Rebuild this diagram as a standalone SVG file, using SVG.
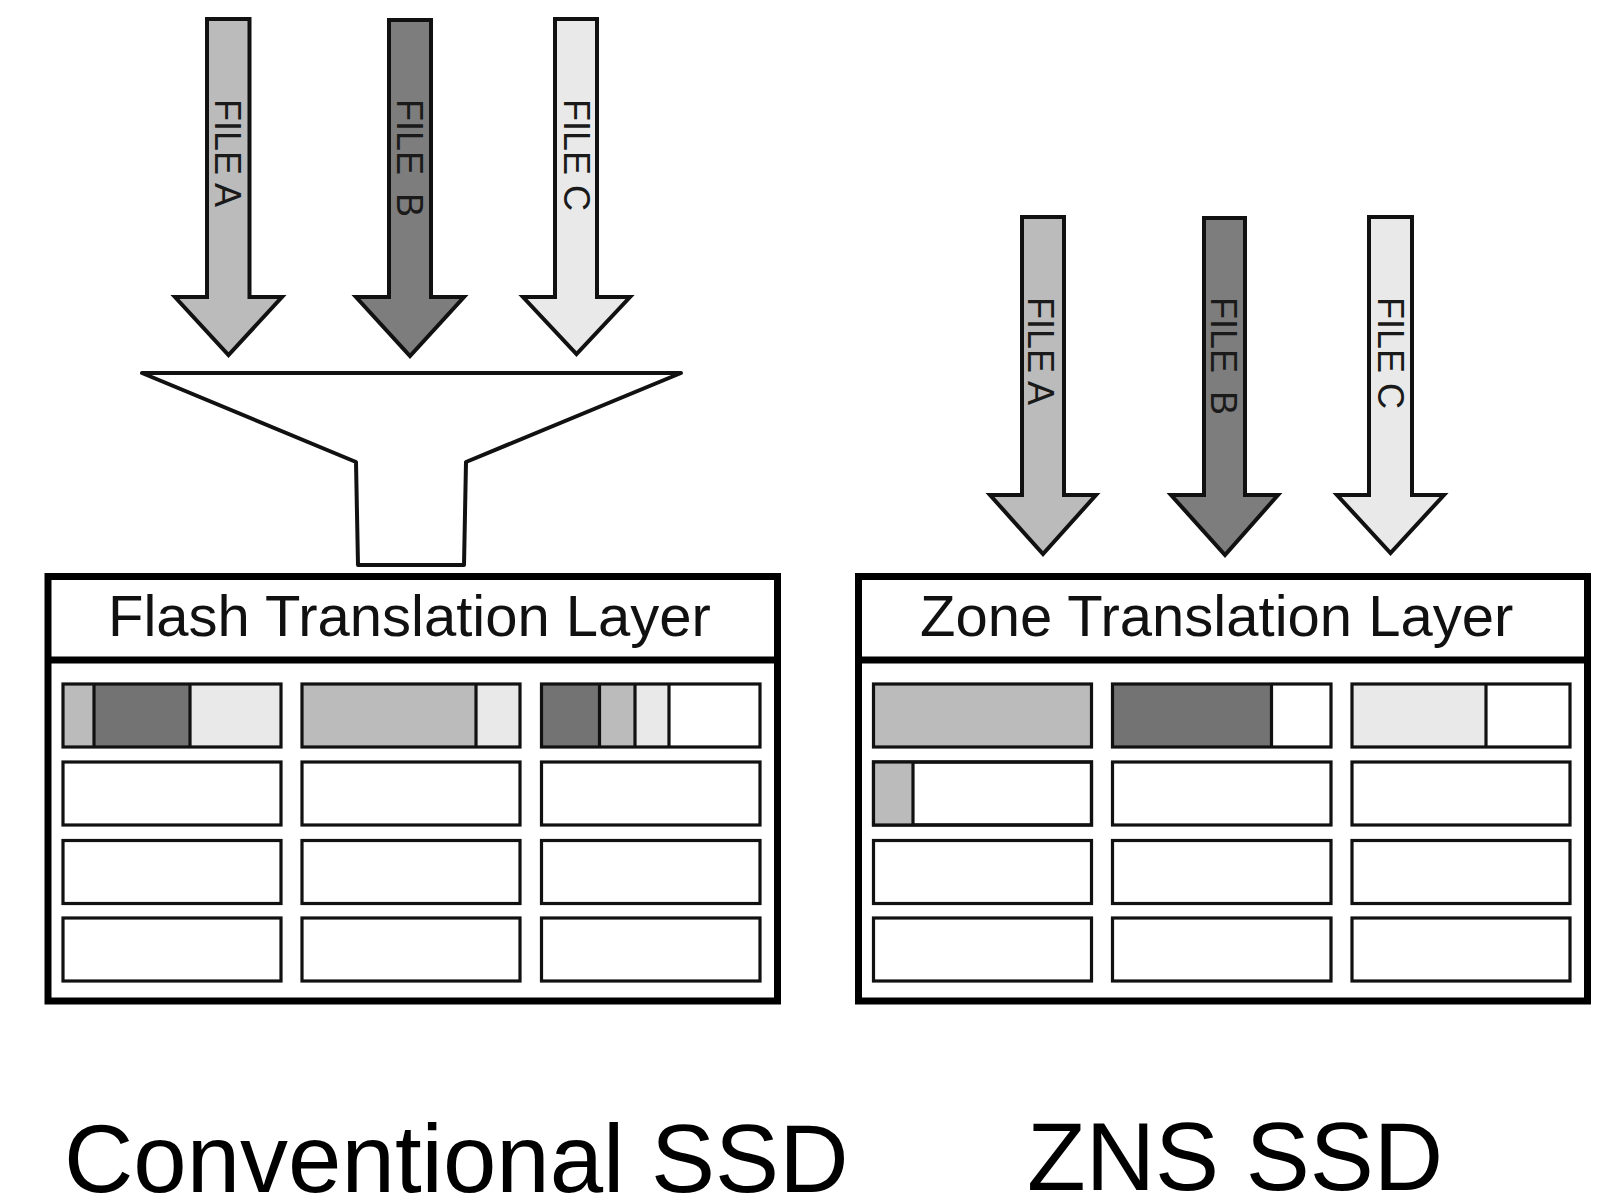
<svg xmlns="http://www.w3.org/2000/svg" width="1604" height="1197" viewBox="0 0 1604 1197">
<style>
.arr{stroke:#111;stroke-width:4;stroke-linejoin:miter}
.fa{fill:#bbbbbb}.fb{fill:#7d7d7d}.fc{fill:#e9e9e9}
.ca{fill:#bbbbbb}.cb{fill:#737373}.cc{fill:#e9e9e9}
.lbl{font-family:"Liberation Sans",Arial,sans-serif;font-size:36px;fill:#1a1a1a}
.box{fill:#fff;stroke:#000;stroke-width:7}
.hdr{stroke:#000;stroke-width:7}
.cell{fill:#fff;stroke:#111;stroke-width:3.2}
.open{fill:none;stroke:#111;stroke-width:3.2}
.div{stroke:#111;stroke-width:3.2}
.ttl{font-family:"Liberation Sans",Arial,sans-serif;font-size:58px;fill:#111}
.big{font-family:"Liberation Sans",Arial,sans-serif;font-size:96px;fill:#000}
.fun{fill:#fff;stroke:#111;stroke-width:4;stroke-linejoin:round}
</style>
<rect width="1604" height="1197" fill="#fff"/>

<g id="connectors">
  <g id="left-arrow-a">
    <polygon class="arr fa" points="207,19 249.5,19 249.5,297 282,297 228.5,355 175,297 207,297"/>
    <text class="lbl" transform="translate(215,99) rotate(90)">FILE A</text>
  </g>
  <g id="left-arrow-b">
    <polygon class="arr fb" points="389,20 431,20 431,297 464,297 410,356 356,297 389,297"/>
    <text class="lbl" transform="translate(397,99) rotate(90)">FILE <tspan dx="8">B</tspan></text>
  </g>
  <g id="left-arrow-c">
    <polygon class="arr fc" points="555,19 597,19 597,297 630,297 576.5,354 523,297 555,297"/>
    <text class="lbl" transform="translate(564,99) rotate(90)">FILE C</text>
  </g>
  <g id="right-arrow-a">
    <polygon class="arr fa" points="1022,217 1064,217 1064,495 1096,495 1043,554 990,495 1022,495"/>
    <text class="lbl" transform="translate(1028,297) rotate(90)">FILE A</text>
  </g>
  <g id="right-arrow-b">
    <polygon class="arr fb" points="1204,218 1245,218 1245,495 1278,495 1225,555 1171,495 1204,495"/>
    <text class="lbl" transform="translate(1211,297) rotate(90)">FILE <tspan dx="8">B</tspan></text>
  </g>
  <g id="right-arrow-c">
    <polygon class="arr fc" points="1369,217 1412,217 1412,495 1444,495 1390.5,553 1337,495 1369,495"/>
    <text class="lbl" transform="translate(1378,297) rotate(90)">FILE C</text>
  </g>
</g>

<g id="funnel">
  <polygon class="fun" points="142,373 681,373 466,462 464,565 358,565 356,462"/>
</g>

<g id="conventional-ssd">
  <rect class="box" x="48" y="576.5" width="729.5" height="424.5"/>
  <line class="hdr" x1="48" y1="660" x2="777.5" y2="660"/>
  <text class="ttl" x="108" y="636">Flash Translation Layer</text>
  <g id="ftl-blocks">
    <rect class="ca" x="63" y="684" width="31" height="63"/>
    <rect class="cb" x="94" y="684" width="96" height="63"/>
    <rect class="cc" x="190" y="684" width="91" height="63"/>
    <rect class="open" x="63" y="684" width="218" height="63"/>
    <line class="div" x1="94" y1="684" x2="94" y2="747"/>
    <line class="div" x1="190" y1="684" x2="190" y2="747"/>

    <rect class="ca" x="302" y="684" width="174" height="63"/>
    <rect class="cc" x="476" y="684" width="44" height="63"/>
    <rect class="open" x="302" y="684" width="218" height="63"/>
    <line class="div" x1="476" y1="684" x2="476" y2="747"/>

    <rect class="cb" x="541.5" y="684" width="58" height="63"/>
    <rect class="ca" x="599.5" y="684" width="35.5" height="63"/>
    <rect class="cc" x="635" y="684" width="34" height="63"/>
    <rect class="open" x="541.5" y="684" width="218.5" height="63"/>
    <line class="div" x1="599.5" y1="684" x2="599.5" y2="747"/>
    <line class="div" x1="635" y1="684" x2="635" y2="747"/>
    <line class="div" x1="669" y1="684" x2="669" y2="747"/>

    <rect class="cell" x="63" y="762" width="218" height="63"/>
    <rect class="cell" x="302" y="762" width="218" height="63"/>
    <rect class="cell" x="541.5" y="762" width="218.5" height="63"/>
    <rect class="cell" x="63" y="840.5" width="218" height="63"/>
    <rect class="cell" x="302" y="840.5" width="218" height="63"/>
    <rect class="cell" x="541.5" y="840.5" width="218.5" height="63"/>
    <rect class="cell" x="63" y="918" width="218" height="63"/>
    <rect class="cell" x="302" y="918" width="218" height="63"/>
    <rect class="cell" x="541.5" y="918" width="218.5" height="63"/>
  </g>
  <text class="big" x="64" y="1192">Conventional SSD</text>
</g>

<g id="zns-ssd">
  <rect class="box" x="858.5" y="576.5" width="729" height="424.5"/>
  <line class="hdr" x1="858.5" y1="660" x2="1587.5" y2="660"/>
  <text class="ttl" x="920" y="636">Zone Translation Layer</text>
  <g id="ztl-zones">
    <rect class="ca" x="873.5" y="684" width="218" height="63"/>
    <rect class="open" x="873.5" y="684" width="218" height="63"/>

    <rect class="cb" x="1112.5" y="684" width="159" height="63"/>
    <rect class="open" x="1112.5" y="684" width="218.5" height="63"/>
    <line class="div" x1="1271.5" y1="684" x2="1271.5" y2="747"/>

    <rect class="cc" x="1352" y="684" width="134" height="63"/>
    <rect class="open" x="1352" y="684" width="218" height="63"/>
    <line class="div" x1="1486" y1="684" x2="1486" y2="747"/>

    <rect class="cell" x="873.5" y="762" width="218" height="63"/>
    <rect class="ca" x="873.5" y="762" width="39.5" height="63"/>
    <rect class="open" x="873.5" y="762" width="218" height="63"/>
    <line class="div" x1="913" y1="762" x2="913" y2="825"/>
    <rect class="cell" x="1112.5" y="762" width="218.5" height="63"/>
    <rect class="cell" x="1352" y="762" width="218" height="63"/>

    <rect class="cell" x="873.5" y="840.5" width="218" height="63"/>
    <rect class="cell" x="1112.5" y="840.5" width="218.5" height="63"/>
    <rect class="cell" x="1352" y="840.5" width="218" height="63"/>
    <rect class="cell" x="873.5" y="918" width="218" height="63"/>
    <rect class="cell" x="1112.5" y="918" width="218.5" height="63"/>
    <rect class="cell" x="1352" y="918" width="218" height="63"/>
  </g>
  <text class="big" x="1027" y="1190">ZNS SSD</text>
</g>
</svg>
